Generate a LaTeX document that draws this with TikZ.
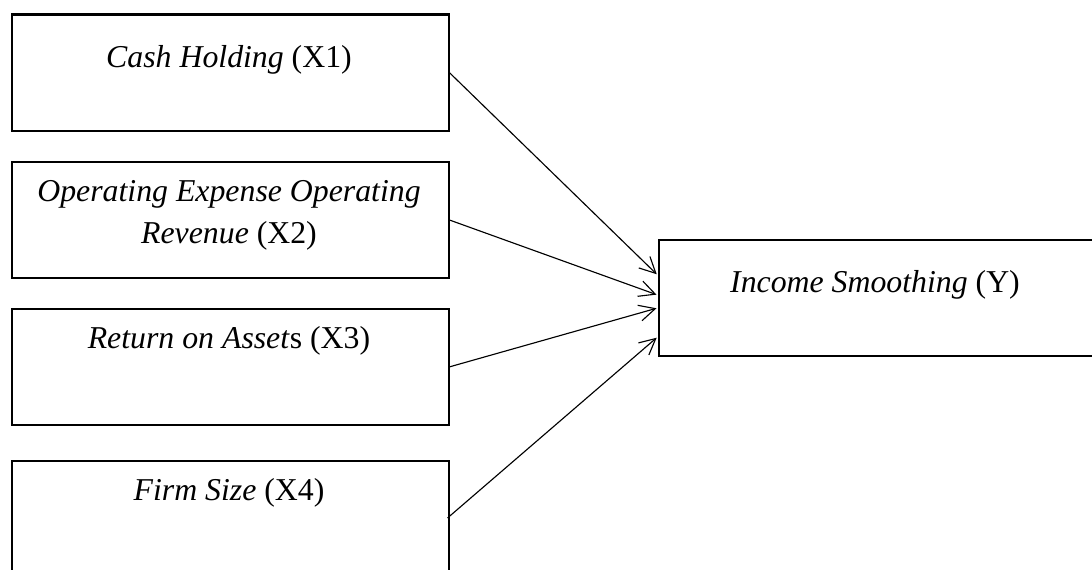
\documentclass[tikz,border=0pt]{standalone}
\usepackage{fontspec}
\setmainfont{Liberation Serif}
\usetikzlibrary{arrows.meta}
\begin{document}
\begin{tikzpicture}[x=0.75pt,y=-0.75pt,
  box/.style={draw, line width=1.6pt, inner sep=0pt, anchor=north west},
  lbl/.style={inner sep=0pt, font=\fontsize{23.85}{31.2}\selectfont, align=center},
  conn/.style={line width=0.85pt, -{Straight Barb[length=12pt,width=12pt,line width=0.85pt]}, shorten >=0.8pt}]
\useasboundingbox (0,0) rectangle (1092,570);
\clip (0,0) rectangle (1092,570);
\node[box, minimum width=327.75pt, minimum height=87.4pt] (b1) at (10.5,13.5) {};
\node[box, minimum width=327.75pt, minimum height=87pt] (b2) at (10.5,161) {};
\node[box, minimum width=327.75pt, minimum height=87.4pt] (b3) at (10.5,307.5) {};
\node[box, minimum width=327.75pt, minimum height=87.4pt] (b4) at (10.5,460) {};
\node[box, minimum width=330pt, minimum height=87pt] (y) at (657.5,239) {};
\node[lbl, anchor=base] (t1) at (229,68) {\textit{Cash Holding} (X1)};
\node[lbl, anchor=base] (t2a) at (229,202) {\textit{Operating Expense Operating}};
\node[lbl, anchor=base] (t2b) at (229,243.6) {\textit{Revenue} (X2)};
\node[lbl, anchor=base] (t3) at (229,348) {\textit{Return on Asset}s (X3)};
\node[lbl, anchor=base] (t4) at (229,500) {\textit{Firm Size} (X4)};
\node[lbl, anchor=base] (ty) at (875,292) {\textit{Income Smoothing} (Y)};
\coordinate (e1) at (657.5,275);
\coordinate (e2) at (657.5,295);
\coordinate (e3) at (657.5,308);
\coordinate (e4) at (657.5,337);
\coordinate (s4) at (447.5,518);
\draw[conn] (b1.east) -- (e1);
\draw[conn] (b2.east) -- (e2);
\draw[conn] (b3.east) -- (e3);
\draw[conn] (s4) -- (e4);
\end{tikzpicture}
\end{document}
